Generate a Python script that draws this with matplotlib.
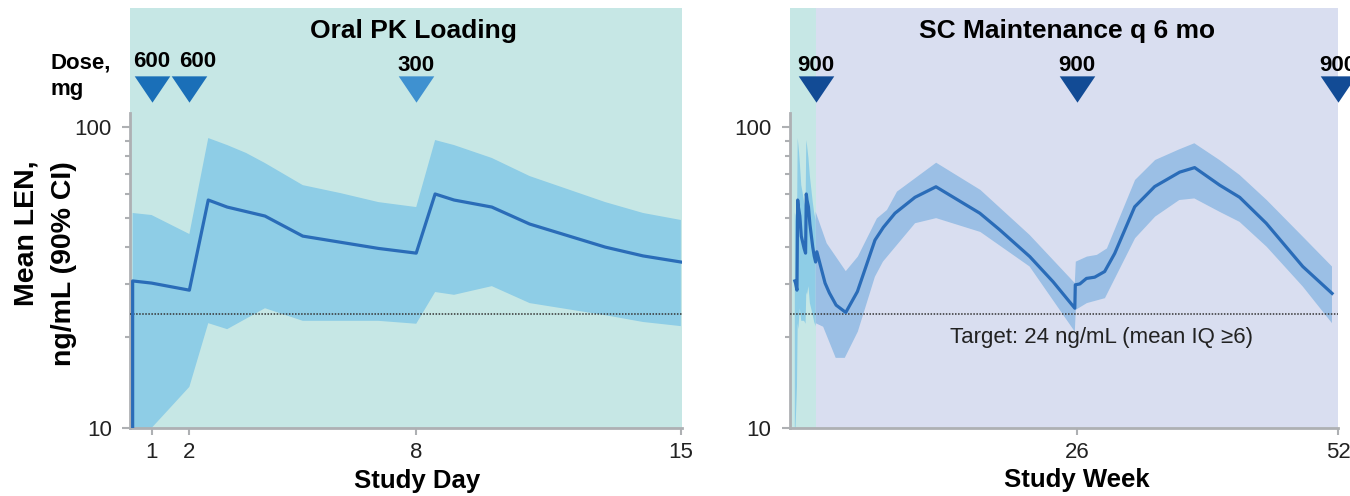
import numpy as np
import matplotlib
matplotlib.use("Agg")
import matplotlib.pyplot as plt

plt.rcParams['font.family'] = ['Liberation Sans', 'DejaVu Sans']

# --- oral loading phase (study day) ---
day_mean = [0.5, 0.5, 1, 2, 2.5, 3, 4, 5, 7, 8, 8.5, 9, 10, 11, 13, 14, 15]
mean_oral = [1, 30.8, 30.3, 28.7, 57.2, 54.2, 50.6, 43.4, 39.5, 38.1, 59.9, 57.2, 54.2, 47.6, 39.9, 37.3, 35.6]

day_hi = [0.5, 1, 2, 2.5, 3, 3.5, 4, 5, 6, 7, 8, 8.5, 9, 10, 11, 13, 14, 15]
hi_oral = [51.8, 51.0, 44.1, 91.9, 87.1, 82.0, 75.9, 64.1, 60.3, 56.3, 54.2, 90.5, 87.1, 78.9, 68.7, 56.3, 51.8, 49.1]

day_lo = [0.5, 1, 1.5, 2, 2.5, 3, 4, 5, 7, 8, 8.5, 9, 10, 11, 13, 14, 15]
lo_oral = [5, 10.0, 11.7, 13.7, 22.3, 21.3, 25.0, 22.7, 22.7, 22.2, 28.3, 27.7, 29.6, 26.0, 23.7, 22.5, 21.8]

oral_dose_day = [1, 2, 8]
oral_dose_mg = [600, 600, 300]

# --- SC maintenance phase (study week) ---
wk_mean = [0.12, 0.94, 1.37, 2.04, 3.0, 4.16, 5.91, 6.74, 7.9, 9.89, 11.98, 16.35, 18.34, 21.32, 23.64,
           25.8, 25.85, 26.3, 26.96, 27.78, 28.77, 29.77, 31.76, 33.75, 36.24, 37.73, 40.22, 42.21,
           44.85, 48.49, 51.41]
mean_sc = [38.5, 30.3, 28.1, 25.6, 24.2, 28.4, 42.1, 46.4, 51.7, 58.4, 63.3, 51.7, 45.5, 37.1, 30.6,
           25.0, 29.9, 30.1, 31.4, 31.7, 33.1, 38.0, 54.3, 63.4, 70.8, 73.3, 64.1, 58.4,
           47.9, 34.4, 28.0]

wk_hi = [0.0, 1.1, 3.0, 4.2, 6.1, 7.1, 8.1, 12.0, 16.4, 21.3, 25.8, 25.9, 27.0, 28.0, 29.0, 31.8,
         33.8, 36.2, 37.7, 40.2, 42.2, 44.9, 48.5, 51.4]
hi_sc = [52.3, 41.1, 33.2, 37.1, 49.7, 53.0, 61.0, 76.1, 61.8, 43.8, 30.3, 35.7, 37.1, 37.6, 39.5, 66.7,
         77.7, 84.3, 88.3, 77.7, 69.3, 57.2, 43.2, 34.4]

wk_lo = [0.0, 0.75, 2.0, 2.9, 4.2, 5.9, 6.7, 9.9, 12.0, 16.4, 21.3, 25.8, 25.9, 27.0, 28.8, 31.8,
         33.8, 36.2, 37.7, 40.2, 42.2, 44.9, 48.5, 51.4]
lo_sc = [22.3, 21.7, 17.1, 17.1, 20.9, 31.8, 35.7, 47.9, 49.8, 44.8, 34.4, 20.9, 24.7, 26.0, 27.0, 42.7,
         50.4, 57.2, 57.9, 52.3, 48.4, 40.0, 29.5, 22.3]

sc_dose_wk = [0, 26, 52]
sc_dose_mg = [900, 900, 900]

target = 24

TEAL = '#c6e7e5'
LAV = '#d9def0'
BAND_ORAL = '#8ecde6'
BAND_SC = '#9bbfe5'
LINE = '#2a6cb8'
GRAY = '#aeb0b3'
# downward triangle, height about 0.74 of width
TRI = [(-1, 0.74), (1, 0.74), (0, -0.74)]


def to_week(days):
    return (np.array(days) - 15) / 7.0


def style_axes(ax):
    ax.set_yscale('log')
    ax.set_ylim(10, 248.5)
    for s in ['top', 'right']:
        ax.spines[s].set_visible(False)
    for s in ['left', 'bottom']:
        ax.spines[s].set_color(GRAY)
        ax.spines[s].set_linewidth(2)
    ax.spines['left'].set_bounds(10, 111.3)
    ax.set_yticks([10, 100], ['10', '100'])
    ax.set_yticks([20, 30, 40, 50, 60, 70, 80, 90], minor=True)
    ax.yaxis.set_minor_formatter(plt.NullFormatter())
    ax.tick_params(axis='y', which='major', length=6, width=1.5, color=GRAY, pad=7,
                   labelsize=16, labelcolor='#222222')
    ax.tick_params(axis='y', which='minor', length=3.5, width=1.5, color=GRAY)
    ax.tick_params(axis='x', length=5, width=1.5, color=GRAY, pad=5,
                   labelsize=16, labelcolor='#222222')
    ax.axhline(target, color='#333333', ls=(0, (1, 1)), lw=1.1, zorder=3)


fig = plt.figure(figsize=(13.5, 4.96), dpi=100)
ax1 = fig.add_axes([130 / 1350, 68 / 496, 552 / 1350, 420 / 496])
ax2 = fig.add_axes([789.5 / 1350, 68 / 496, 548.5 / 1350, 420 / 496])

# left: oral PK loading
ax1.set_facecolor(TEAL)
ax1.fill(np.r_[day_hi, day_lo[::-1]], np.r_[hi_oral, lo_oral[::-1]], color=BAND_ORAL, lw=0, zorder=2)
ax1.plot(day_mean, mean_oral, color=LINE, lw=2.3, zorder=4)
style_axes(ax1)
ax1.set_xlim(0.43, 15.03)
ax1.set_xticks([1, 2, 8, 15])
ax1.set_xlabel('Study Day', fontsize=18.5, fontweight='bold')
ax1.xaxis.set_label_coords(0.521, -0.143)
ax1.xaxis.label.set_verticalalignment('baseline')
ax1.text(0.514, 0.9286, 'Oral PK Loading', transform=ax1.transAxes, ha='center', va='baseline',
         fontsize=19, fontweight='bold')

oral_colors = ['#1a6fb8', '#1a6fb8', '#3f91d0']
label_dx = [0, 6, 0]
label_y = [0.8595, 0.8595, 0.85]
for d, mg, c, dx, ly in zip(oral_dose_day, oral_dose_mg, oral_colors, label_dx, label_y):
    ax1.plot([d], [0.806], ls='none', marker=TRI, ms=25.6, mew=0, color=c,
             transform=ax1.get_xaxis_transform(), clip_on=False, zorder=5)
    ax1.annotate(str(mg), xy=(d, ly), xycoords=ax1.get_xaxis_transform(), xytext=(dx, 0),
                 textcoords='offset points', ha='center', va='baseline',
                 fontsize=16, fontweight='bold')

# right: SC maintenance
ax2.set_facecolor(LAV)
ax2.axvspan(-2.6, 0, color=TEAL, lw=0, zorder=0)
ax2.fill(np.r_[to_week(day_hi), to_week(day_lo)[::-1]], np.r_[hi_oral, lo_oral[::-1]],
         color=BAND_ORAL, lw=0, zorder=2)
ax2.fill(np.r_[wk_hi, wk_lo[::-1]], np.r_[hi_sc, lo_sc[::-1]], color=BAND_SC, lw=0, zorder=2)
ax2.plot(np.r_[to_week(day_mean[1:]), wk_mean], np.r_[mean_oral[1:], mean_sc],
         color=LINE, lw=2.3, zorder=4)
style_axes(ax2)
ax2.set_xlim(-2.6, 52.0)
ax2.set_xticks([26, 52])
ax2.set_xlabel('Study Week', fontsize=18.5, fontweight='bold')
ax2.xaxis.set_label_coords(0.524, -0.1405)
ax2.xaxis.label.set_verticalalignment('baseline')
ax2.text(0.506, 0.9286, 'SC Maintenance q 6 mo', transform=ax2.transAxes, ha='center', va='baseline',
         fontsize=19, fontweight='bold')
ax2.text(0.2926, 0.2024, 'Target: 24 ng/mL (mean IQ \u22656)', transform=ax2.transAxes,
         ha='left', va='baseline', fontsize=16, color='#222222')

for w, mg in zip(sc_dose_wk, sc_dose_mg):
    ax2.plot([w], [0.806], ls='none', marker=TRI, ms=25.6, mew=0, color='#124b95',
             transform=ax2.get_xaxis_transform(), clip_on=False, zorder=5)
    ax2.text(w, 0.85, str(mg), transform=ax2.get_xaxis_transform(), ha='center', va='baseline',
             fontsize=16, fontweight='bold', clip_on=False)

# y label and dose header
fig.text(0.02, 0.677, 'Mean LEN,', rotation=90, rotation_mode='anchor', ha='right', va='center',
         fontsize=20.5, fontweight='bold')
fig.text(0.0474, 0.675, 'ng/mL (90% CI)', rotation=90, rotation_mode='anchor', ha='right',
         va='center', fontsize=20.5, fontweight='bold')
fig.text(50 / 1350, 0.8629, 'Dose,', ha='left', va='baseline', fontsize=16, fontweight='bold')
fig.text(50 / 1350, 0.8085, 'mg', ha='left', va='baseline', fontsize=16, fontweight='bold')

fig.savefig('out.png', dpi=100)
